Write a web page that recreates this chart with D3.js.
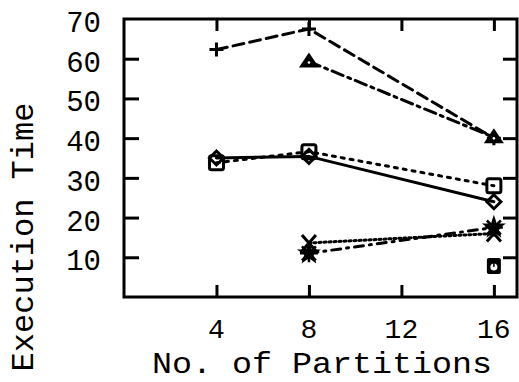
<!DOCTYPE html>
<html>
<head>
<meta charset="utf-8">
<script src="https://cdn.jsdelivr.net/npm/d3@7"></script>
<style>
  body { margin: 0; background: #fff; }
  svg { display: block; }
  text { font-family: "Liberation Mono", "Courier New", monospace; fill: #000; }
</style>
</head>
<body>
<svg id="chart"></svg>
<script>
const width = 519;
const height = 382;
const svg = d3.select("svg#chart")
  .attr("width", width)
  .attr("height", height);

// frame of the plot
const margin = { top: 19, bottom: 85, left: 124, right: 2 };

// data
const partitions = [4, 8, 16];
const xTicks = [4, 8, 12, 16];
const yTicks = [10, 20, 30, 40, 50, 60, 70];

const plusSeries     = [62.3, 67.5, 40];
const triangleSeries = [null, 59.3, 40.2];
const squareSeries   = [33.8, 36.6, 28];
const diamondSeries  = [35, 35.4, 24];
const crossSeries    = [null, 13.6, 16];
const starSeries     = [null, 11, 17.5];
const circleSqSeries = [null, null, 7.8];

const series = [
  { name: "plus",     values: plusSeries,     dash: "11,6",        marker: "plus" },
  { name: "triangle", values: triangleSeries, dash: "12,5,3,5",    marker: "triangle" },
  { name: "square",   values: squareSeries,   dash: "3,6",         marker: "square" },
  { name: "diamond",  values: diamondSeries,  dash: null,          marker: "diamond" },
  { name: "cross",    values: crossSeries,    dash: "2,3",         marker: "cross" },
  { name: "star",     values: starSeries,     dash: "9,6,2,6",     marker: "star" },
  { name: "circlesq", values: circleSqSeries, dash: null,          marker: "circlesq" }
];

const x = d3.scaleLinear()
  .domain([0, 17])
  .range([margin.left, width - margin.right]);

const y = d3.scaleLinear()
  .domain([0, 70])
  .range([height - margin.bottom, margin.top]);

const plotW = width - margin.right - margin.left;
const plotH = height - margin.bottom - margin.top;

// inward ticks on all four sides
svg.append("g")
  .attr("transform", "translate(0," + (height - margin.bottom) + ")")
  .call(d3.axisTop(x).tickValues(xTicks).tickSize(12).tickFormat(""))
  .call(g => g.select(".domain").remove())
  .selectAll("line").attr("stroke-width", 3);

svg.append("g")
  .attr("transform", "translate(0," + margin.top + ")")
  .call(d3.axisBottom(x).tickValues(xTicks).tickSize(12).tickFormat(""))
  .call(g => g.select(".domain").remove())
  .selectAll("line").attr("stroke-width", 3);

svg.append("g")
  .attr("transform", "translate(" + margin.left + ",0)")
  .call(d3.axisRight(y).tickValues(yTicks.slice(0, 6)).tickSize(15).tickFormat(""))
  .call(g => g.select(".domain").remove())
  .selectAll("line").attr("stroke-width", 3);

svg.append("g")
  .attr("transform", "translate(" + (width - margin.right) + ",0)")
  .call(d3.axisLeft(y).tickValues(yTicks.slice(0, 6)).tickSize(14).tickFormat(""))
  .call(g => g.select(".domain").remove())
  .selectAll("line").attr("stroke-width", 3);

// frame
svg.append("rect")
  .attr("x", margin.left)
  .attr("y", margin.top)
  .attr("width", plotW)
  .attr("height", plotH)
  .attr("fill", "none")
  .attr("stroke", "#000")
  .attr("stroke-width", 3);

// tick labels
svg.append("g").selectAll("text")
  .data(xTicks)
  .enter()
  .append("text")
  .attr("x", d => x(d))
  .attr("y", 338)
  .attr("text-anchor", "middle")
  .style("font-size", "28px")
  .text(d => d);

svg.append("g").selectAll("text")
  .data(yTicks)
  .enter()
  .append("text")
  .attr("x", 101)
  .attr("y", d => y(d))
  .attr("dy", "0.45em")
  .attr("text-anchor", "end")
  .style("font-size", "29px")
  .text(d => d);

// axis titles
svg.append("text")
  .attr("x", 152)
  .attr("y", 373)
  .attr("textLength", 340)
  .attr("lengthAdjust", "spacingAndGlyphs")
  .style("font-size", "30px")
  .text("No. of Partitions");

svg.append("g")
  .attr("transform", "translate(33," + 237 + ")")
  .append("text")
  .attr("transform", "rotate(-90)")
  .attr("text-anchor", "middle")
  .style("font-size", "32px")
  .text("Execution Time");

// lines
const line = d3.line()
  .defined(d => d[1] != null)
  .x(d => x(d[0]))
  .y(d => y(d[1]));

svg.append("g").selectAll("path")
  .data(series)
  .enter()
  .append("path")
  .attr("d", s => line(partitions.map((p, i) => [p, s.values[i]])))
  .attr("fill", "none")
  .attr("stroke", "#000")
  .attr("stroke-width", 3)
  .attr("stroke-linecap", "round")
  .attr("stroke-dasharray", s => s.dash);

// markers
function drawMarker(g, type) {
  if (type == "plus") {
    g.append("path").attr("d", "M-7,0H7M0,-7V7")
      .attr("stroke", "#000").attr("stroke-width", 3);
  } else if (type == "triangle") {
    g.append("path").attr("d", "M0,-9L10,6H-10Z").attr("fill", "#000");
    g.append("circle").attr("r", 1.3).attr("cy", 1).attr("fill", "#fff");
  } else if (type == "square") {
    g.append("rect").attr("x", -7).attr("y", -7).attr("width", 14).attr("height", 14)
      .attr("rx", 2).attr("fill", "none").attr("stroke", "#000").attr("stroke-width", 3);
  } else if (type == "diamond") {
    g.append("path").attr("d", "M0,-7L7,0L0,7L-7,0Z")
      .attr("fill", "none").attr("stroke", "#000").attr("stroke-width", 3);
  } else if (type == "cross") {
    g.append("path").attr("d", "M-7,-8L7,8M7,-8L-7,8")
      .attr("stroke", "#000").attr("stroke-width", 3);
  } else if (type == "star") {
    g.append("path").attr("d", d3.symbol(d3.symbolStar, 180)())
      .attr("fill", "#000");
    g.append("path").attr("d", "M-9,0H9M0,-9V9M-7,-7L7,7M7,-7L-7,7")
      .attr("stroke", "#000").attr("stroke-width", 2.5);
  } else if (type == "circlesq") {
    g.append("rect").attr("x", -7).attr("y", -8).attr("width", 14).attr("height", 16)
      .attr("rx", 2).attr("fill", "#000");
    g.append("circle").attr("r", 3.5).attr("cy", 1).attr("fill", "#fff");
    g.append("path").attr("d", "M0,-3V1").attr("stroke", "#000").attr("stroke-width", 1.5);
  }
}

series.forEach(s => {
  partitions.forEach((p, i) => {
    if (s.values[i] == null) return;
    const g = svg.append("g")
      .attr("transform", "translate(" + x(p) + "," + y(s.values[i]) + ")");
    drawMarker(g, s.marker);
  });
});
</script>
</body>
</html>
